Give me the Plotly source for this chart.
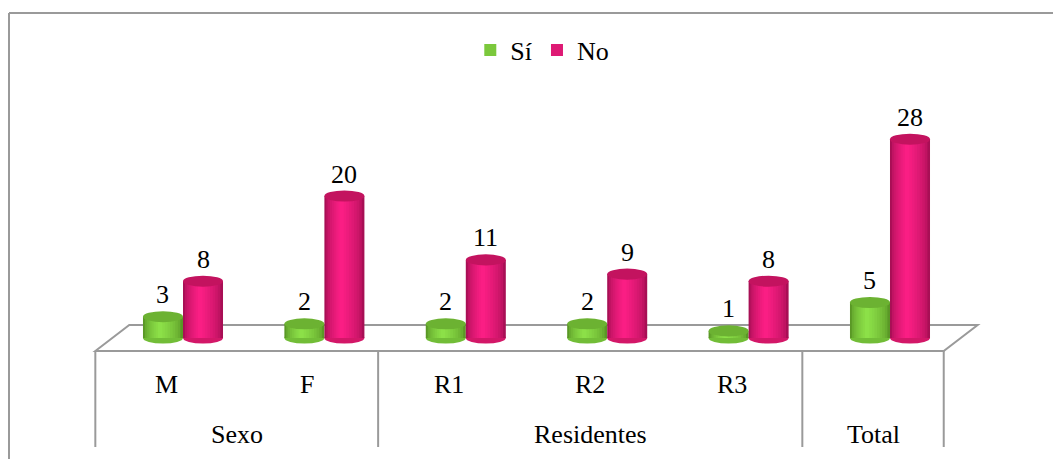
import plotly.graph_objects as go

# Survey answers per category
categories = ["M", "F", "R1", "R2", "R3", "Total"]
groups = ["Sexo", "Residentes", "Total"]
group_spans = [(0, 1), (2, 4), (5, 5)]
si_values = [3, 2, 2, 2, 1, 5]
no_values = [8, 20, 11, 9, 8, 28]

series = [
    # name, values, offset of bar within category, edge colour, highlight colour, cap colour, base colour
    ("Sí", si_values, -0.283, (0x5a, 0x98, 0x26), (0x8c, 0xe0, 0x48), "#6cb232", "#72bd37"),
    ("No", no_values, 0.0, (0xa8, 0x0f, 0x55), (0xfa, 0x1e, 0x84), "#c3135f", "#d31768"),
]
BAR_W = 0.283          # bar width in category units
CAP_H = 0.78           # half height of the elliptical cap, in value units
DEPTH = 0.12           # horizontal offset of floor front/back edges
FLOOR_H = 1.83         # half depth of the floor, in value units
N_LAYERS = 9
HL = 0.42              # where the highlight sits across a bar

X_RANGE = [-1.2942, 6.1528]
Y_RANGE = [(338 - 459) / 7.1, 338 / 7.1]
SERIF = "Liberation Serif"
FS = 26
GRID = "#9a9a9a"


def mix(c1, c2, t):
    return "rgb(%d,%d,%d)" % tuple(round(a + (b - a) * t) for a, b in zip(c1, c2))


fig = go.Figure()
shapes = []
annotations = []
xs = list(range(len(categories)))

for name, vals, off, edge, hi, cap, base in series:
    # layered bars give each cylinder a rounded shading
    for k in range(N_LAYERS):
        f = 1 - k / N_LAYERS
        t = (k / (N_LAYERS - 1)) ** 0.6
        left = off + BAR_W * HL * (1 - f)
        fig.add_trace(go.Bar(
            x=xs, y=vals, width=BAR_W * f, offset=left,
            marker=dict(color=mix(edge, hi, t), line=dict(width=0)),
            name=name, showlegend=(k == 4), legendrank=1 if name == "Sí" else 2,
            hoverinfo="skip",
        ))
    for i, v in enumerate(vals):
        x0, x1 = i + off, i + off + BAR_W
        # rounded base
        shapes.append(dict(type="circle", xref="x", yref="y", layer="below",
                           x0=x0, x1=x1, y0=-CAP_H, y1=CAP_H,
                           fillcolor=base, line=dict(width=0)))
        # top cap
        shapes.append(dict(type="circle", xref="x", yref="y", layer="above",
                           x0=x0, x1=x1, y0=v - CAP_H, y1=v + CAP_H,
                           fillcolor=cap, line=dict(width=0)))
        annotations.append(dict(x=(x0 + x1) / 2, y=v, xref="x", yref="y",
                                text=str(v), showarrow=False, yanchor="middle", yshift=22,
                                font=dict(family=SERIF, size=FS, color="black")))

# floor of the 3D plot area
n = len(categories)
fl, fr = -0.5 - DEPTH, n - 0.5 - DEPTH
bl, br = -0.5 + DEPTH, n - 0.5 + DEPTH
shapes.insert(0, dict(
    type="path", xref="x", yref="y", layer="below",
    path=f"M {fl},{-FLOOR_H} L {bl},{FLOOR_H} L {br},{FLOOR_H} L {fr},{-FLOOR_H} Z",
    fillcolor="white", line=dict(color=GRID, width=2)))

# category table below the floor
table_bottom = (338 - 447) / 7.1
bounds = [group_spans[0][0] - 0.5] + [s[1] + 0.5 for s in group_spans]
for b in bounds:
    shapes.append(dict(type="line", xref="x", yref="y", layer="below",
                       x0=b - DEPTH, x1=b - DEPTH, y0=-FLOOR_H, y1=table_bottom,
                       line=dict(color=GRID, width=2)))
for i, c in enumerate(categories[:-1]):
    annotations.append(dict(x=i - DEPTH, y=1 - 384 / 459, xref="x", yref="paper", text=c,
                            yanchor="middle", showarrow=False,
                            font=dict(family=SERIF, size=FS, color="black")))
for g, (a, b) in zip(groups, group_spans):
    annotations.append(dict(x=(a + b) / 2 - DEPTH, y=1 - 434 / 459, xref="x", yref="paper", text=g,
                            yanchor="middle", showarrow=False,
                            font=dict(family=SERIF, size=FS, color="black")))

# outer frame of the chart
shapes.append(dict(type="line", xref="paper", yref="paper", x0=9 / 1053, x1=1,
                   y0=1 - 13 / 459, y1=1 - 13 / 459, line=dict(color=GRID, width=2)))
shapes.append(dict(type="line", xref="paper", yref="paper", x0=9 / 1053, x1=9 / 1053,
                   y0=0, y1=1 - 13 / 459, line=dict(color=GRID, width=2)))

fig.update_layout(
    width=1053, height=459,
    margin=dict(l=0, r=0, t=0, b=0),
    paper_bgcolor="white", plot_bgcolor="white",
    barmode="overlay",
    xaxis=dict(range=X_RANGE, visible=False, fixedrange=True),
    yaxis=dict(range=Y_RANGE, visible=False, fixedrange=True),
    shapes=shapes, annotations=annotations,
    showlegend=True,
    legend=dict(orientation="h", x=0.515, xanchor="center", y=1 - 50 / 459, yanchor="middle",
                font=dict(family=SERIF, size=FS, color="black"),
                itemwidth=30, traceorder="normal", bgcolor="rgba(0,0,0,0)"),
)

fig.write_html("out.html")
